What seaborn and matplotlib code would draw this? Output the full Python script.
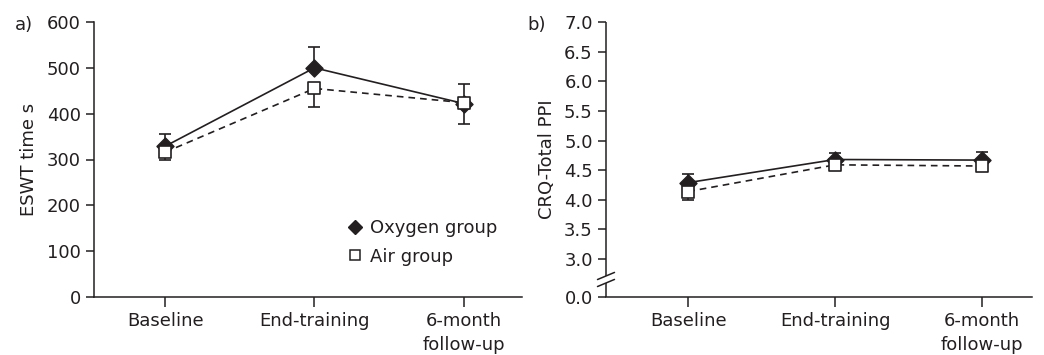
import numpy as np
import pandas as pd
import matplotlib
matplotlib.use("Agg")
import matplotlib.pyplot as plt
from matplotlib.lines import Line2D
import seaborn as sns

# ---- data ----
categories = ["Baseline", "End-training", "6-month\nfollow-up"]
groups = ["Oxygen group", "Air group"]

eswt_oxygen = [329, 500, 422]
eswt_oxygen_err = [26, 45, 43]      # upward error bars
eswt_air = [316, 455, 424]
eswt_air_err = [18, 40, 47]         # downward error bars

crq_oxygen = [4.29, 4.68, 4.67]
crq_oxygen_err = [0.14, 0.11, 0.14]
crq_air = [4.14, 4.59, 4.57]
crq_air_err = [0.14, 0.0, 0.0]

eswt_ticks = [0, 100, 200, 300, 400, 500, 600]
crq_ticks = [3.0, 3.5, 4.0, 4.5, 5.0, 5.5, 6.0, 6.5, 7.0]
crq_break_bottom = 2.36   # position where "0.0" is drawn (broken axis)

sns.set_theme(style="ticks")
plt.rcParams["font.family"] = ["DejaVu Sans"]
INK = "#231f20"
FS = 13
plt.rcParams.update({
    "text.color": INK, "axes.labelcolor": INK, "xtick.color": INK,
    "ytick.color": INK, "axes.edgecolor": INK, "axes.linewidth": 1.1,
    "xtick.major.width": 1.1, "ytick.major.width": 1.1,
    "xtick.major.size": 7, "ytick.major.size": 6,
})

fig = plt.figure(figsize=(10.44, 3.55), dpi=100)
W, H = 1044, 355
axA = fig.add_axes([94 / W, 1 - 297 / H, (522 - 94) / W, (297 - 22) / H])
axB = fig.add_axes([606 / W, 1 - 297 / H, (1032 - 606) / W, (297 - 22) / H])

x = np.arange(len(categories))


def draw(ax, oxy, oxy_err, air, air_err):
    df = pd.DataFrame({
        "x": np.concatenate([x, x]),
        "y": np.concatenate([oxy, air]),
        "group": [groups[0]] * 3 + [groups[1]] * 3,
    })
    # lines
    sns.lineplot(data=df[df.group == groups[0]], x="x", y="y", ax=ax,
                 color=INK, lw=1.2, zorder=2, legend=False)
    sns.lineplot(data=df[df.group == groups[1]], x="x", y="y", ax=ax,
                 color=INK, lw=1.2, zorder=4, legend=False,
                 linestyle=(0, (4, 3)))
    # error bars (oxygen up, air down)
    ax.errorbar(x, oxy, yerr=[np.zeros(3), oxy_err], fmt="none", ecolor=INK,
                elinewidth=1.2, capsize=4, capthick=1.2, zorder=3)
    ax.errorbar(x, air, yerr=[air_err, np.zeros(3)], fmt="none", ecolor=INK,
                elinewidth=1.2, capsize=4, capthick=1.2, zorder=5)
    # markers
    sns.scatterplot(x=x, y=oxy, ax=ax, marker="D", s=75, color=INK,
                    edgecolor=INK, linewidth=1, zorder=3.5, legend=False)
    sns.scatterplot(x=x, y=air, ax=ax, marker="s", s=75, color="white",
                    edgecolor=INK, linewidth=1.2, zorder=6, legend=False)
    ax.set_xticks(x)
    ax.set_xticklabels(categories, fontsize=FS, linespacing=1.45)
    ax.set_xlabel("")
    sns.despine(ax=ax)


draw(axA, eswt_oxygen, eswt_oxygen_err, eswt_air, eswt_air_err)
axA.set_xlim(-0.477, 2.39)
axA.set_ylim(0, 600)
axA.set_yticks(eswt_ticks)
axA.set_yticklabels([str(t) for t in eswt_ticks], fontsize=FS)
axA.set_ylabel("ESWT time s", fontsize=FS, labelpad=6)

handles = [
    Line2D([], [], marker="D", color=INK, linestyle="none", markersize=7,
           markerfacecolor=INK),
    Line2D([], [], marker="s", color=INK, linestyle="none", markersize=7,
           markerfacecolor="white", markeredgewidth=1.1),
]
axA.legend(handles, groups, loc="lower left", bbox_to_anchor=(0.572, 0.081),
           frameon=False, fontsize=FS, handlelength=0.8, handletextpad=0.4,
           labelspacing=0.6, borderpad=0)

draw(axB, crq_oxygen, crq_oxygen_err, crq_air, crq_air_err)
axB.set_xlim(-0.56, 2.34)
axB.set_ylim(crq_break_bottom, 7.0)
yt = [crq_break_bottom] + crq_ticks
axB.set_yticks(yt)
axB.set_yticklabels(["0.0"] + [f"{t:.1f}" for t in crq_ticks], fontsize=FS)
axB.set_ylabel("CRQ-Total PPI", fontsize=FS, labelpad=6)

# axis break on panel b's left spine
axB.spines["left"].set_visible(False)
tr = axB.get_yaxis_transform()
y_break_hi = 2.36 + (297 - 276) / 59.2
y_break_lo = 2.36 + (297 - 283) / 59.2
axB.plot([0, 0], [y_break_hi, 7.0], transform=tr, color=INK, lw=1.1,
         clip_on=False, solid_capstyle="butt")
axB.plot([0, 0], [crq_break_bottom, y_break_lo], transform=tr, color=INK,
         lw=1.1, clip_on=False, solid_capstyle="butt")
dx = 8.5 / (1032 - 606)
for yc in (y_break_hi, y_break_lo):
    axB.plot([-dx, dx], [yc - 0.06, yc + 0.06], transform=tr, color=INK,
             lw=1.1, clip_on=False)

fig.text(15 / W, 1 - 25 / H, "a)", fontsize=FS, va="center", ha="left")
fig.text(527 / W, 1 - 25 / H, "b)", fontsize=FS, va="center", ha="left")

fig.savefig("out.png", dpi=100)
